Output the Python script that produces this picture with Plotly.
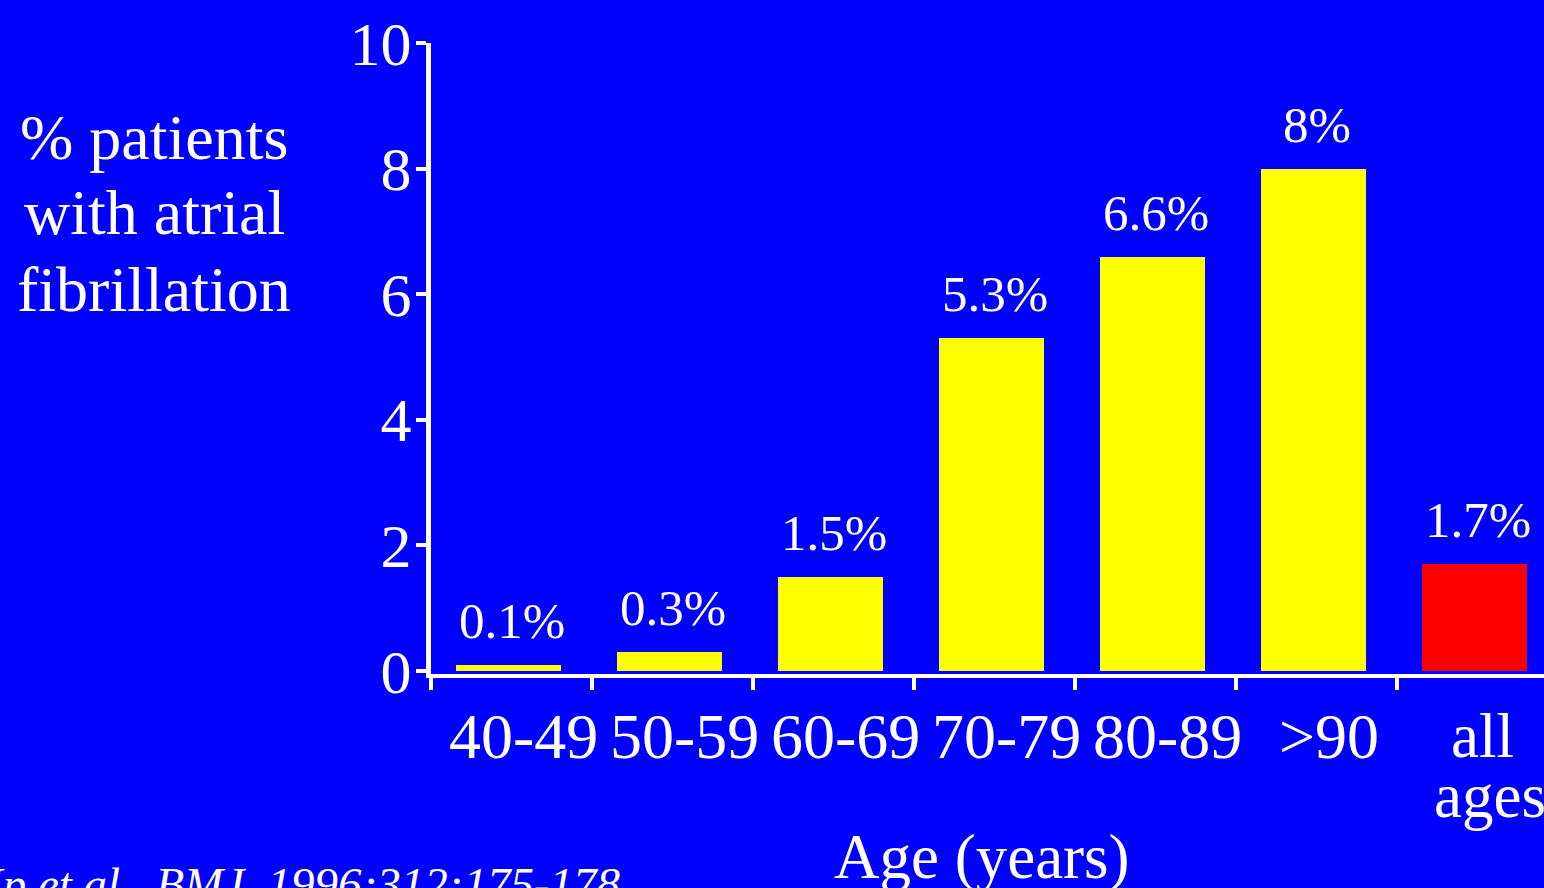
import plotly.graph_objects as go

# Prevalence of atrial fibrillation by age group
age_groups = ["40-49", "50-59", "60-69", "70-79", "80-89", ">90", "all ages"]
prevalence = [0.1, 0.3, 1.5, 5.3, 6.6, 8.0, 1.7]
value_labels = ["0.1%", "0.3%", "1.5%", "5.3%", "6.6%", "8%", "1.7%"]
y_ticks = [0, 2, 4, 6, 8, 10]

BLUE = "#0000FF"
YELLOW = "#FFFF00"
RED = "#FF0000"
WHITE = "#FFFFFF"
SERIF = "Liberation Serif, Times New Roman, serif"

W, H = 1544, 888
ML, MR, MT, MB = 431, 0, 43, 214
PW = W - ML - MR
PH = H - MT - MB


def px_x(x):
    return (x - ML) / PW


def px_y(y):
    return (H - MB - y) / PH


bar_colors = [YELLOW] * (len(age_groups) - 1) + [RED]

fig = go.Figure()
fig.add_trace(go.Bar(
    x=age_groups,
    y=prevalence,
    width=0.652,
    offset=-0.345,
    marker=dict(color=bar_colors, line=dict(width=0)),
    hoverinfo="skip",
))

annotations = []
for i, (v, lab) in enumerate(zip(prevalence, value_labels)):
    annotations.append(dict(
        x=i, y=v, xref="x", yref="y", text=lab, showarrow=False,
        xanchor="center", yanchor="bottom", yshift=14,
        font=dict(family=SERIF, size=51, color=WHITE),
    ))

# category labels under the axis (the last one wraps onto two lines)
label_font = dict(family=SERIF, size=64, color=WHITE)
for i, cat in enumerate(age_groups):
    words = cat.split(" ")
    if len(words) == 1:
        annotations.append(dict(
            x=cat, y=px_y(736), xref="x", yref="paper", text=cat,
            showarrow=False, xanchor="center", yanchor="middle", xshift=12,
            font=label_font,
        ))
    else:
        for word, yc, dx in zip(words, (736, 796), (5, 12)):
            annotations.append(dict(
                x=cat, y=px_y(yc), xref="x", yref="paper", text=word,
                showarrow=False, xanchor="center", yanchor="middle", xshift=dx,
                font=dict(family=SERIF, size=63, color=WHITE),
            ))

# vertical axis title
for line, yc in [("% patients", 137), ("with atrial", 212), ("fibrillation", 289)]:
    annotations.append(dict(
        x=px_x(154), y=px_y(yc), xref="paper", yref="paper", text=line,
        showarrow=False, xanchor="center", yanchor="middle",
        font=dict(family=SERIF, size=64, color=WHITE),
    ))

# horizontal axis title
annotations.append(dict(
    x=px_x(982), y=px_y(857), xref="paper", yref="paper", text="Age (years)",
    showarrow=False, xanchor="center", yanchor="middle",
    font=dict(family=SERIF, size=63, color=WHITE),
))

# source
annotations.append(dict(
    x=px_x(622), y=px_y(884), xref="paper", yref="paper",
    text="<i>Ip et al.  BMJ  1996;312:175-178</i>",
    showarrow=False, xanchor="right", yanchor="middle",
    font=dict(family=SERIF, size=47, color=WHITE),
))

fig.update_layout(
    width=W, height=H,
    margin=dict(l=ML, r=MR, t=MT, b=MB, pad=0),
    paper_bgcolor=BLUE, plot_bgcolor=BLUE,
    showlegend=False,
    bargap=0,
    annotations=annotations,
    xaxis=dict(
        type="category",
        range=[-0.5, 6.41],
        tickson="boundaries",
        showticklabels=False,
        showgrid=False, zeroline=False,
        showline=True, linecolor=WHITE, linewidth=4,
        ticks="outside", ticklen=12, tickwidth=4, tickcolor=WHITE,
    ),
    yaxis=dict(
        range=[-0.048, 10.0],
        tickvals=y_ticks,
        showgrid=False, zeroline=False,
        showline=True, linecolor=WHITE, linewidth=5,
        ticks="outside", ticklen=10, tickwidth=4, tickcolor=WHITE,
        tickfont=dict(family=SERIF, size=62, color=WHITE),
        ticklabelstandoff=-8,
    ),
)

fig.write_html("out.html")
